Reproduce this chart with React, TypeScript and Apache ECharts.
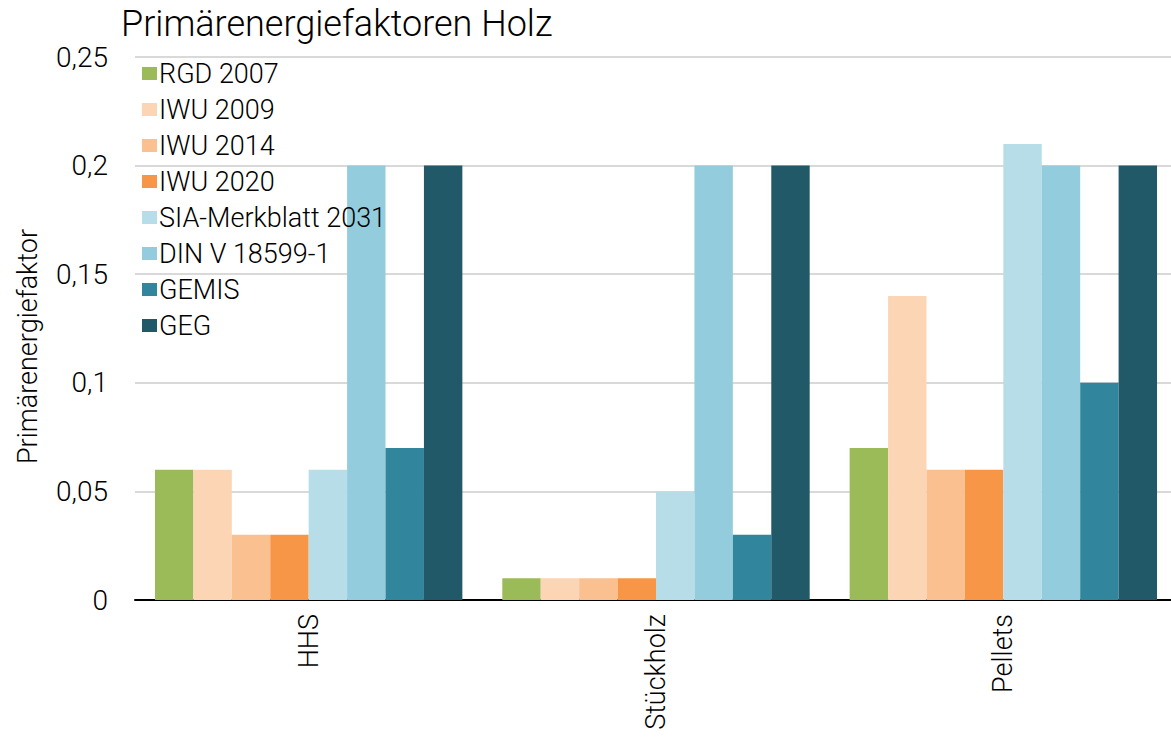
import React, { useEffect, useRef } from "react";
import * as echarts from "echarts";

const categories = ["HHS", "Stückholz", "Pellets"];
const seriesNames = ["RGD 2007", "IWU 2009", "IWU 2014", "IWU 2020", "SIA-Merkblatt 2031", "DIN V 18599-1", "GEMIS", "GEG"];
const colors = ["#9BBB59", "#FCD5B5", "#FAC090", "#F79646", "#B7DEE8", "#93CDDD", "#31859C", "#215968"];
const rgd2007 = [0.06, 0.01, 0.07];
const iwu2009 = [0.06, 0.01, 0.14];
const iwu2014 = [0.03, 0.01, 0.06];
const iwu2020 = [0.03, 0.01, 0.06];
const sia2031 = [0.06, 0.05, 0.21];
const din18599 = [0.2, 0.2, 0.2];
const gemis = [0.07, 0.03, 0.1];
const geg = [0.2, 0.2, 0.2];
const seriesData = [rgd2007, iwu2009, iwu2014, iwu2020, sia2031, din18599, gemis, geg];

const FONT = "Roboto";

export default function App() {
  const ref = useRef<HTMLDivElement>(null);
  useEffect(() => {
    document.body.style.margin = "0";
    const chart = echarts.init(ref.current!, undefined, { renderer: "svg" });
    chart.setOption({
      animation: false,
      textStyle: { fontFamily: FONT, fontWeight: 300, color: "#000" },
      title: {
        text: "Primärenergiefaktoren Holz",
        left: 116,
        top: 1,
        textStyle: { fontFamily: FONT, fontWeight: 300, fontSize: 36, color: "#000" },
      },
      legend: {
        orient: "vertical",
        left: 137,
        top: 55,
        itemWidth: 15,
        itemHeight: 13,
        itemGap: 9,
        icon: "rect",
        data: seriesNames,
        textStyle: { fontFamily: FONT, fontWeight: 300, fontSize: 27, color: "#000", padding: [0, 0, 0, -3] },
      },
      grid: { left: 135, right: -6, top: 57, bottom: 138, containLabel: false, outerBoundsMode: "none" },
      xAxis: {
        type: "category",
        data: categories,
        axisLine: { lineStyle: { color: "#000", width: 2 } },
        axisTick: { show: false },
        axisLabel: { rotate: 90, fontSize: 27, margin: 14, color: "#000", fontFamily: FONT, fontWeight: 300 },
      },
      yAxis: {
        type: "value",
        min: 0,
        max: 0.25,
        interval: 0.05,
        name: "Primärenergiefaktor",
        nameLocation: "middle",
        nameGap: 94,
        nameTextStyle: { fontSize: 27, color: "#000", fontFamily: FONT, fontWeight: 300, padding: [0, 36, 0, 0] },
        axisLabel: {
          fontSize: 28,
          margin: 27,
          color: "#000",
          fontFamily: FONT,
          fontWeight: 300,
          formatter: (v: number) => String(Math.round(v * 100) / 100).replace(".", ","),
        },
        splitLine: { lineStyle: { color: "#d9d9d9", width: 2 } },
        axisLine: { show: false },
        axisTick: { show: false },
      },
      series: seriesNames.map((name, i) => ({
        name,
        type: "bar",
        data: seriesData[i],
        barGap: "0%",
        barCategoryGap: "11.5%",
        itemStyle: { color: colors[i] },
      })),
    });
    return () => chart.dispose();
  }, []);
  return <div ref={ref} style={{ width: 1171, height: 738 }} />;
}
